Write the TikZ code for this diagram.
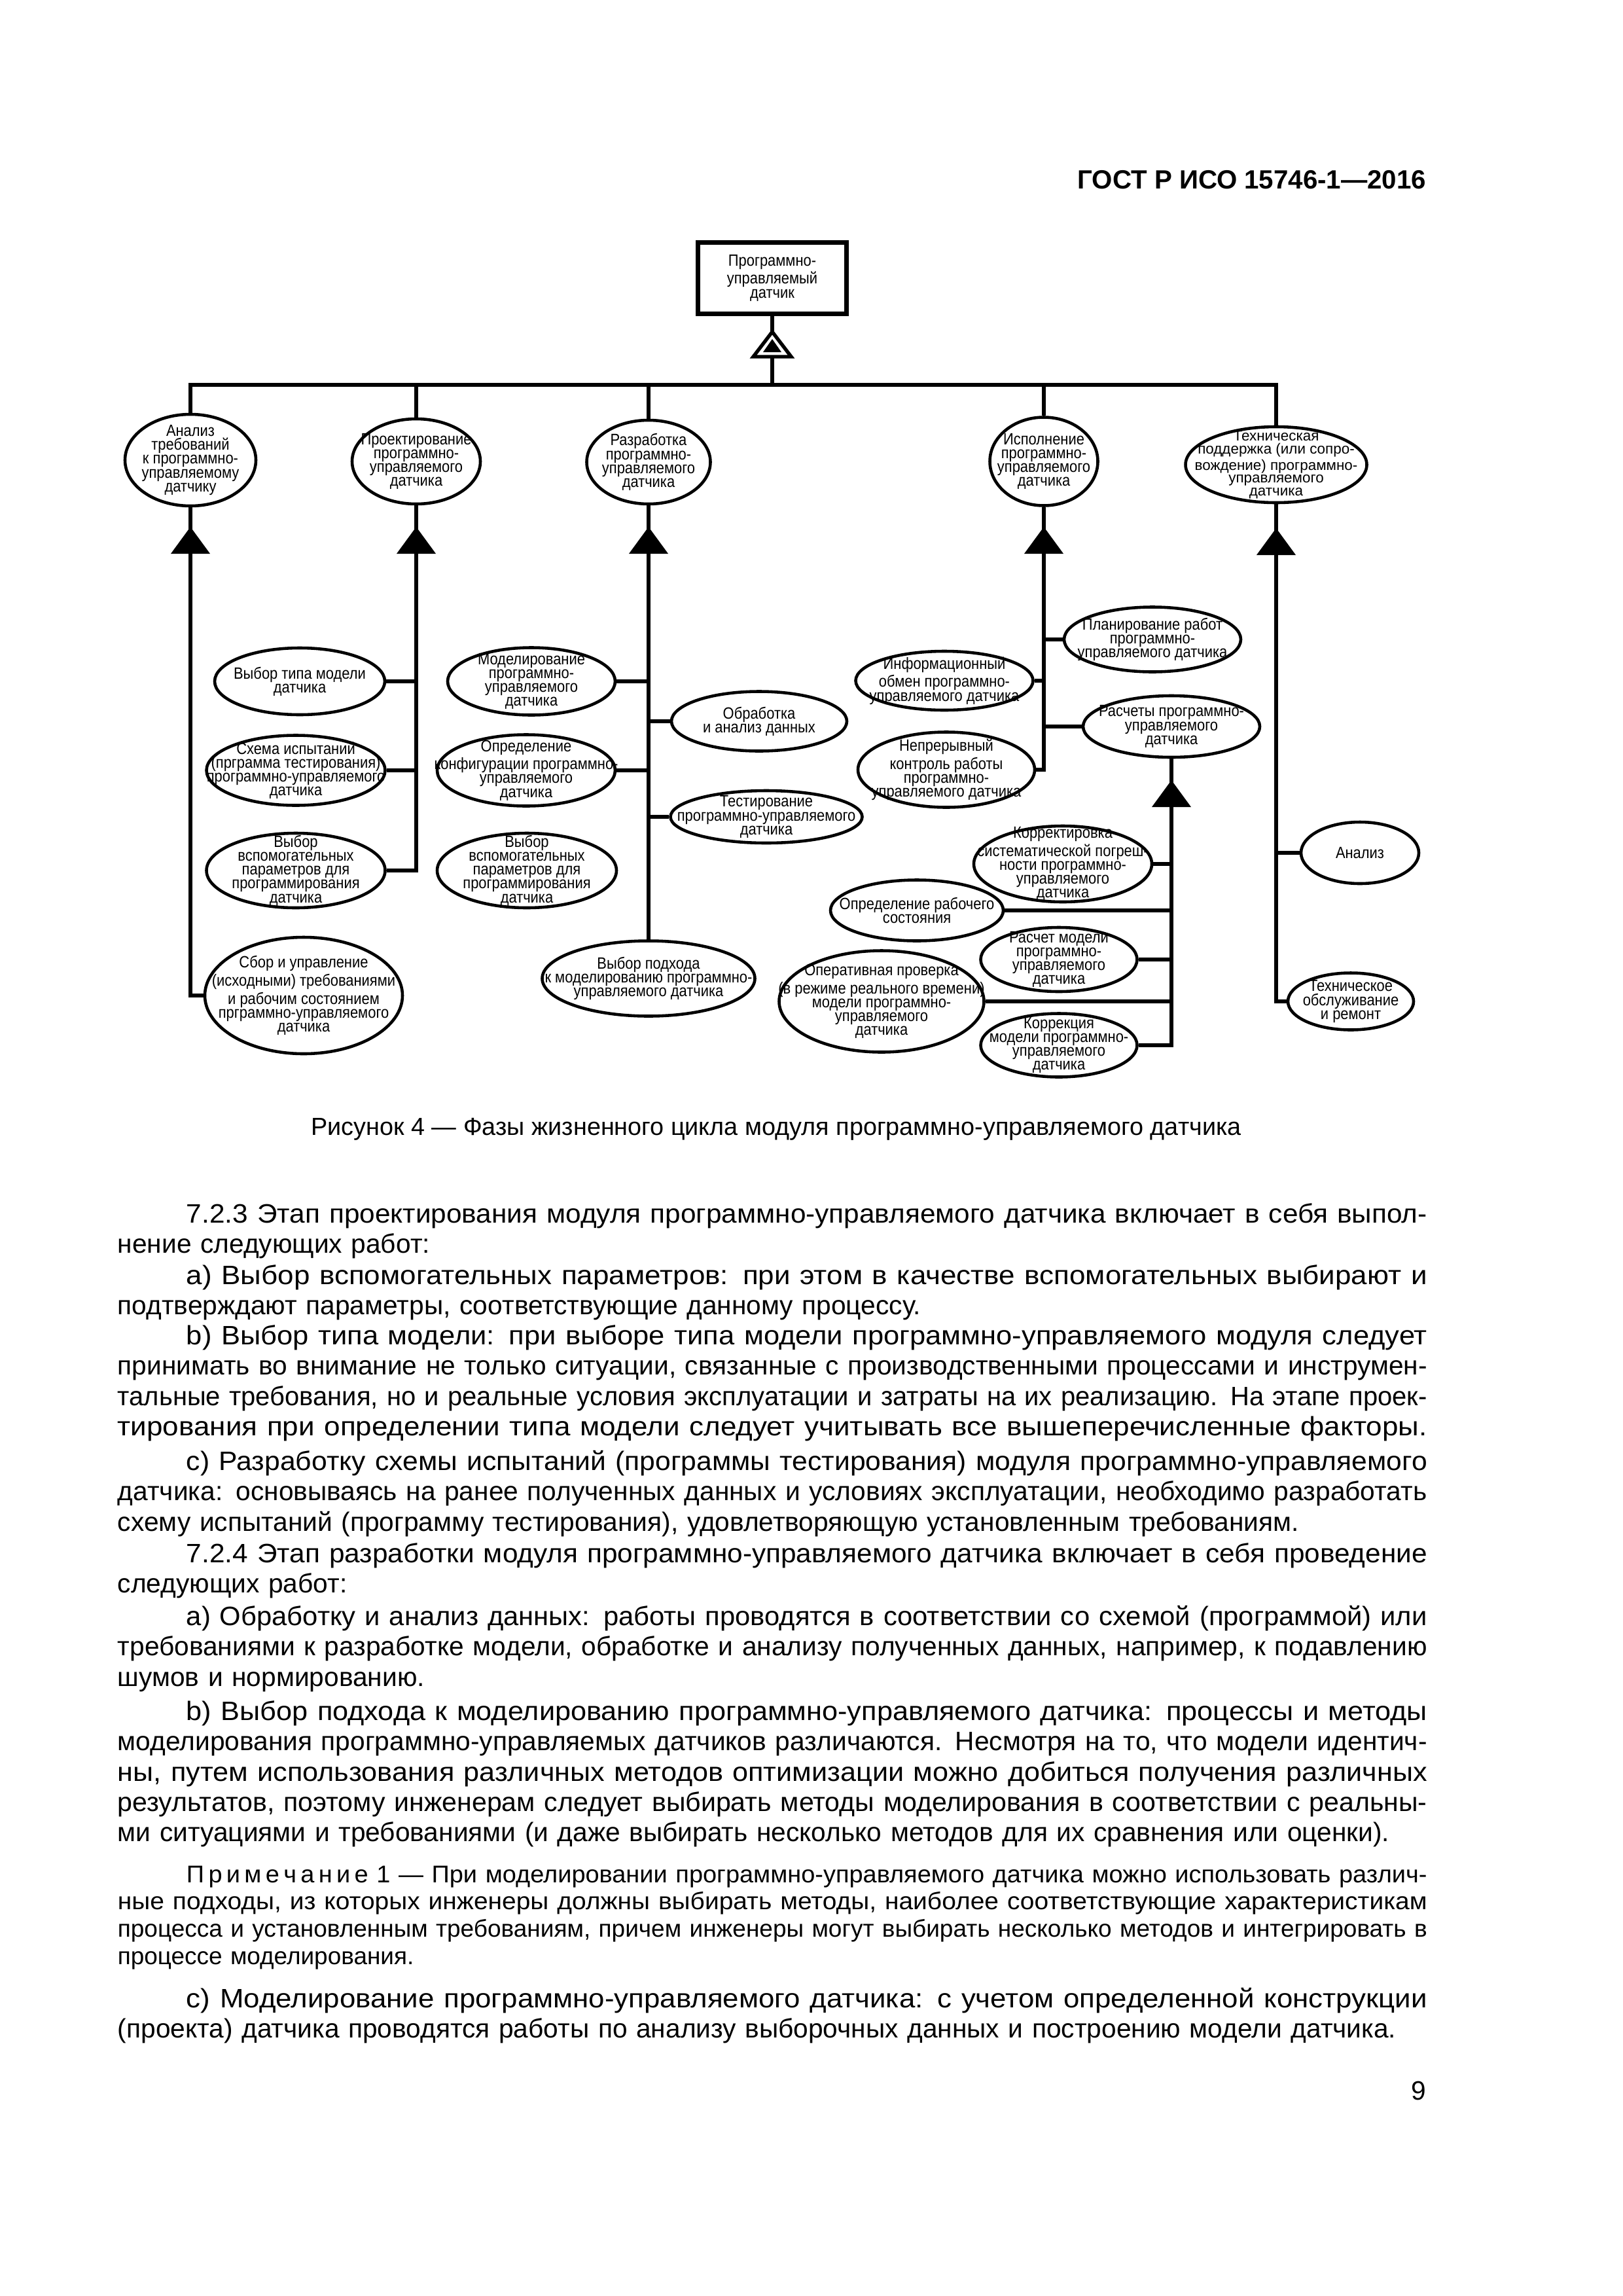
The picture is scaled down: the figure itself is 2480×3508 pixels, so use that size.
\documentclass[tikz,border=0pt]{standalone}
\usepackage{fontspec}
\usepackage{graphicx}
\setmainfont{Liberation Sans}
\newfontfamily\diafont[FakeStretch=0.88]{Liberation Sans}
\usetikzlibrary{shapes.geometric}
\newcommand\jl[1]{\leavevmode\resizebox{169.4mm}{\height}{#1}\\}
\newcommand\jli[1]{\leavevmode\hspace*{8.9mm}\resizebox{160.5mm}{\height}{#1}\\}

\begin{document}
\begin{tikzpicture}[
		x=0.08467mm, y=-0.08467mm,
		esize/.style 2 args={minimum width=#1*0.08467mm, minimum height=#2*0.08467mm},
		phase/.style={draw, ellipse, line width=1.1pt, inner sep=-40pt, align=center, font={\diafont\fontsize{6pt}{5.1pt}\selectfont}},
		link/.style={line width=1.4pt},
		body/.style={anchor=base west, inner sep=0pt, text width=169.4mm, align=left, font={\fontsize{9.8pt}{11.2pt}\selectfont}},
		note/.style={body, font={\fontsize{8.9pt}{10.1pt}\selectfont}},
		gentri/.pic={\fill (0,0) -- (30,41) -- (-30,41) -- cycle;},
		aggtri/.pic={\filldraw[fill=white, line width=1.3pt] (0,0) -- (29,38) -- (-29,38) -- cycle; \fill (0,11) -- (14,31) -- (-14,31) -- cycle;}
	]
		\useasboundingbox (0,0) rectangle (2480,3508);
		\node[anchor=base east, inner sep=0pt, font={\bfseries\fontsize{9.7pt}{12pt}\selectfont}] (header) at (2180,288) {ГОСТ Р ИСО 15746-1—2016};

		\node[draw, line width=1.8pt, esize={227}{109}, align=center, font={\diafont\fontsize{6pt}{5.3pt}\selectfont}] (sensor) at (1180,425) {Программно-\\управляемый\\датчик};
		\coordinate (bus) at (1180,588);

		\node[phase, esize={200}{140}] (req) at (291,703) {Анализ\\требований\\к программно-\\управляемому\\датчику};
		\node[phase, esize={196}{130}] (design) at (636,705) {Проектирование\\программно-\\управляемого\\датчика};
		\node[phase, esize={189}{128}] (dev) at (991,706) {Разработка\\программно-\\управляемого\\датчика};
		\node[phase, esize={165}{135}] (exec) at (1595,705) {Исполнение\\программно-\\управляемого\\датчика};
		\node[phase, esize={277}{116}, font={\fontsize{5.4pt}{4.8pt}\selectfont}] (maint) at (1950,710) {Техническая\\поддержка (или сопро-\\вождение) программно-\\управляемого\\датчика};

		\node[phase, esize={260}{102}] (typemodel) at (458,1041) {Выбор типа модели\\датчика};
		\node[phase, esize={273}{107}] (testscheme) at (452,1177) {Схема испытаний\\(прграмма тестирования)\\программно-управляемого\\датчика};
		\node[phase, esize={273}{114}] (auxa) at (452,1330) {Выбор\\вспомогательных\\параметров для\\программирования\\датчика};
		\node[phase, esize={302}{178}] (collect) at (464,1521) {Сбор и управление\\(исходными) требованиями\\и рабочим состоянием\\прграммно-управляемого\\датчика};

		\node[phase, esize={256}{103}] (modelling) at (812,1041) {Моделирование\\программно-\\управляемого\\датчика};
		\node[phase, esize={272}{109}] (config) at (804,1177) {Определение\\конфигурации программно-\\управляемого\\датчика};
		\node[phase, esize={274}{114}] (auxb) at (805,1330) {Выбор\\вспомогательных\\параметров для\\программирования\\датчика};
		\node[phase, esize={325}{115}] (approach) at (991,1495) {Выбор подхода\\к моделированию программно-\\управляемого датчика};
		\node[phase, esize={268}{91}] (processing) at (1160,1102) {Обработка\\и анализ данных};
		\node[phase, esize={293}{80}] (testing) at (1171,1248) {Тестирование\\программно-управляемого\\датчика};

		\node[phase, esize={270}{99}] (planning) at (1761,977) {Планирование работ\\программно-\\управляемого датчика};
		\node[phase, esize={271}{90}] (info) at (1443,1040) {Информационный\\обмен программно-\\управляемого датчика};
		\node[phase, esize={270}{94}] (calc) at (1790,1110) {Расчеты программно-\\управляемого\\датчика};
		\node[phase, esize={270}{115}] (control) at (1446,1176) {Непрерывный\\контроль работы\\программно-\\управляемого датчика};

		\node[phase, esize={272}{116}] (bias) at (1624,1320) {Корректировка\\систематической погреш-\\ности программно-\\управляемого\\датчика};
		\node[phase, esize={264}{93}] (opstate) at (1401,1391) {Определение рабочего\\состояния};
		\node[phase, esize={239}{98}] (calcmodel) at (1618,1466) {Расчет модели\\программно-\\управляемого\\датчика};
		\node[phase, esize={313}{155}] (online) at (1347,1530) {Оперативная проверка\\(в режиме реального времени)\\модели программно-\\управляемого\\датчика};
		\node[phase, esize={239}{97}] (correction) at (1618,1597) {Коррекция\\модели программно-\\управляемого\\датчика};

		\node[phase, esize={180}{94}] (analysis) at (2078,1303) {Анализ};
		\node[phase, esize={192}{87}] (repair) at (2064,1530) {Техническое\\обслуживание\\и ремонт};

		\draw[link] (sensor.south) -- (sensor.south |- bus);
		\draw[link] (req.north) -- (req.north |- bus) -- (maint.north |- bus) -- (maint.north);
		\foreach \n in {design,dev,exec} \draw[link] (\n.north) -- (\n.north |- bus);

		\draw[link] (req.south) -- (req.south |- collect) -- (collect.west);
		\draw[link] (design.south) -- (design.south |- auxa) -- (auxa.east);
		\foreach \n in {typemodel,testscheme} \draw[link] (\n.east) -- (\n.east -| design.south);
		\draw[link] (dev.south) -- (approach.north);
		\foreach \n in {modelling,config} \draw[link] (\n.east) -- (\n.east -| dev.south);
		\foreach \n in {processing,testing} \draw[link] (\n.west) -- (\n.west -| dev.south);
		\draw[link] (exec.south) -- (exec.south |- control) -- (control.east);
		\draw[link] (info.east) -- (info.east -| exec.south);
		\foreach \n in {planning,calc} \draw[link] (\n.west) -- (\n.west -| exec.south);
		\draw[link] (calc.south) -- (calc.south |- correction) -- (correction.east);
		\foreach \n in {bias,opstate,calcmodel,online} \draw[link] (\n.east) -- (\n.east -| calc.south);
		\draw[link] (maint.south) -- (maint.south |- repair) -- (repair.west);
		\draw[link] (analysis.west) -- (analysis.west -| maint.south);

		\pic at (1180,507) {aggtri};
		\pic at (291,805) {gentri};
		\pic at (636,805) {gentri};
		\pic at (991,805) {gentri};
		\pic at (1595,805) {gentri};
		\pic at (1950,807) {gentri};
		\pic at (1790,1192) {gentri};

		\node[anchor=base, inner sep=0pt, font={\fontsize{9.1pt}{11pt}\selectfont}] (caption) at (1186,1734) {Рисунок 4 — Фазы жизненного цикла модуля программно-управляемого датчика};

		\node[body] (p723) at (179,1868) {\jli{7.2.3 Этап проектирования модуля программно-управляемого датчика включает в себя выпол-}нение следующих работ:};
		\node[body] (p723a) at (179,1962) {\jli{а) Выбор вспомогательных параметров: при этом в качестве вспомогательных выбирают и}подтверждают параметры, соответствующие данному процессу.};
		\node[body] (p723b) at (179,2054) {\jli{b) Выбор типа модели: при выборе типа модели программно-управляемого модуля следует}\jl{принимать во внимание не только ситуации, связанные с производственными процессами и инструмен-}\jl{тальные требования, но и реальные условия эксплуатации и затраты на их реализацию. На этапе проек-}\jl{тирования при определении типа модели следует учитывать все вышеперечисленные факторы.}};
		\node[body] (p723c) at (179,2246) {\jli{c) Разработку схемы испытаний (программы тестирования) модуля программно-управляемого}\jl{датчика: основываясь на ранее полученных данных и условиях эксплуатации, необходимо разработать}схему испытаний (программу тестирования), удовлетворяющую установленным требованиям.};
		\node[body] (p724) at (179,2387) {\jli{7.2.4 Этап разработки модуля программно-управляемого датчика включает в себя проведение}следующих работ:};
		\node[body] (p724a) at (179,2483) {\jli{а) Обработку и анализ данных: работы проводятся в соответствии со схемой (программой) или}\jl{требованиями к разработке модели, обработке и анализу полученных данных, например, к подавлению}шумов и нормированию.};
		\node[body] (p724b) at (179,2628) {\jli{b) Выбор подхода к моделированию программно-управляемого датчика: процессы и методы}\jl{моделирования программно-управляемых датчиков различаются. Несмотря на то, что модели идентич-}\jl{ны, путем использования различных методов оптимизации можно добиться получения различных}\jl{результатов, поэтому инженерам следует выбирать методы моделирования в соответствии с реальны-}ми ситуациями и требованиями (и даже выбирать несколько методов для их сравнения или оценки).};
		\node[note] (note1) at (179,2876) {\jli{П\,р\,и\,м\,е\,ч\,а\,н\,и\,е 1 — При моделировании программно-управляемого датчика можно использовать различ-}\jl{ные подходы, из которых инженеры должны выбирать методы, наиболее соответствующие характеристикам}\jl{процесса и установленным требованиям, причем инженеры могут выбирать несколько методов и интегрировать в}процессе моделирования.};
		\node[body] (p724c) at (179,3067) {\jli{c) Моделирование программно-управляемого датчика: с учетом определенной конструкции}(проекта) датчика проводятся работы по анализу выборочных данных и построению модели датчика.};

		\node[anchor=base east, inner sep=0pt, font={\fontsize{9.8pt}{11pt}\selectfont}] (pagenum) at (2180,3208) {9};
	\end{tikzpicture}
\end{document}
